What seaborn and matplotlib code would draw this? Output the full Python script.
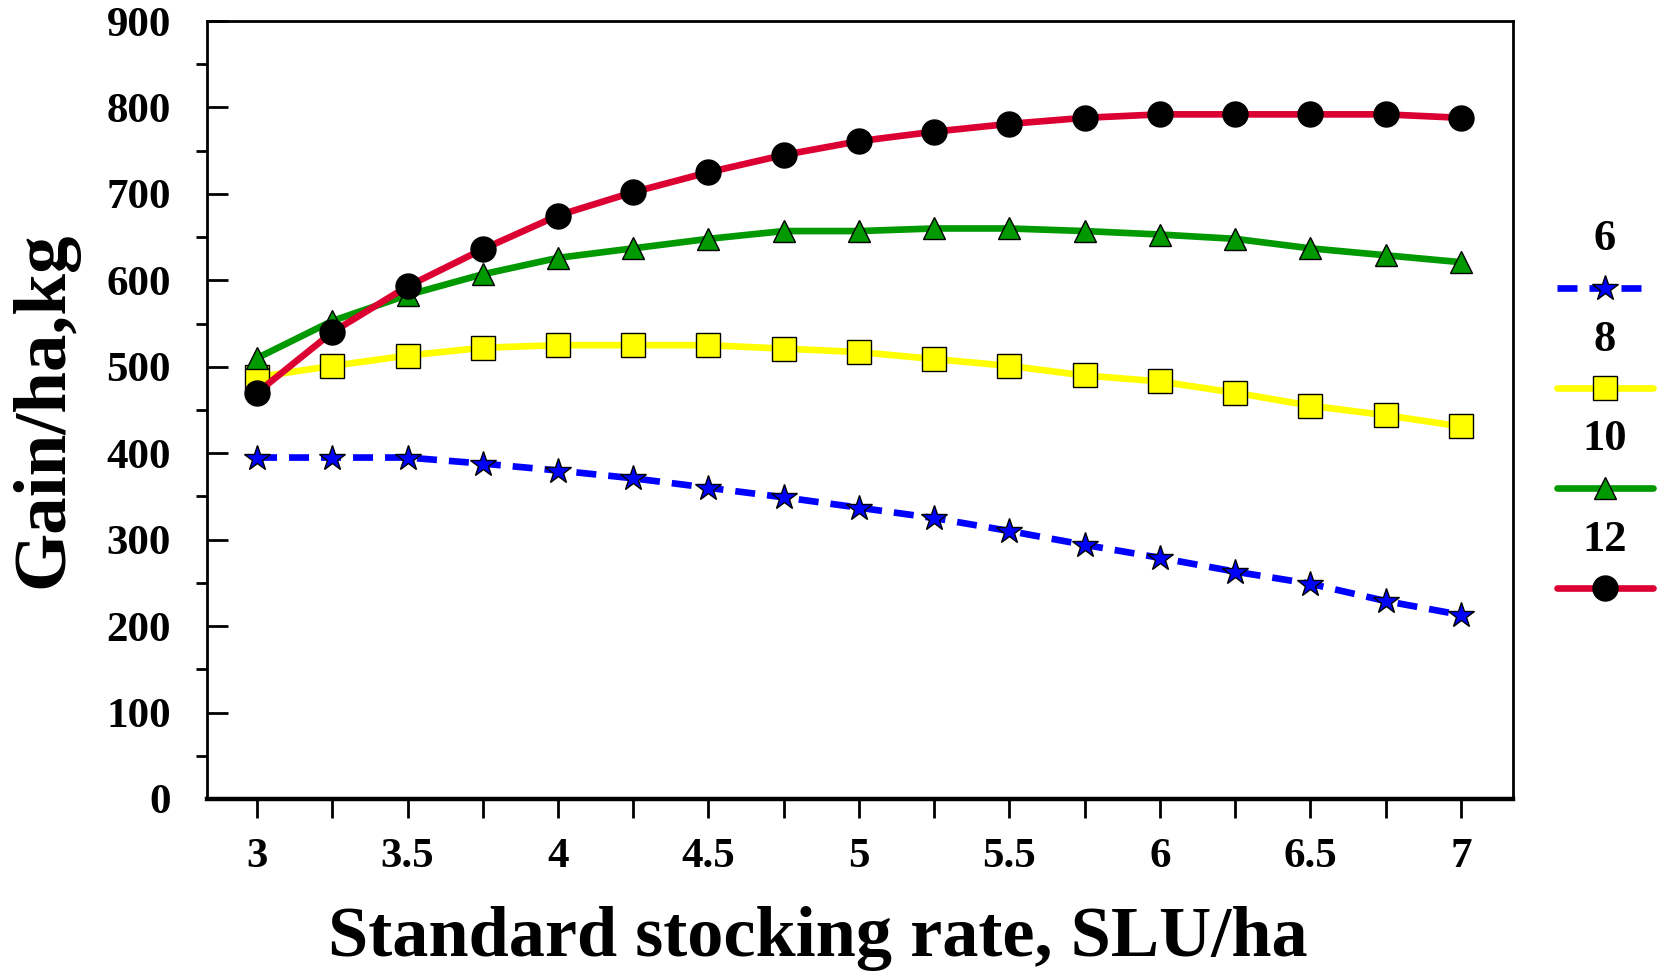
import matplotlib
matplotlib.use("Agg")
import matplotlib.pyplot as plt
from matplotlib.lines import Line2D
from matplotlib.ticker import MultipleLocator
import numpy as np
import pandas as pd
import seaborn as sns

# stocking rate (SLU/ha)
rate = [3, 3.25, 3.5, 3.75, 4, 4.25, 4.5, 4.75, 5, 5.25, 5.5, 5.75, 6, 6.25, 6.5, 6.75, 7]

# gain per ha (kg) for each series
gain_6 = [395, 395, 395, 388, 380, 371, 360, 349, 337, 325, 310, 294, 279, 263, 249, 229, 213]
gain_8 = [488, 501, 513, 522, 525, 525, 525, 521, 517, 509, 501, 490, 483, 470, 455, 444, 431]
gain_10 = [510, 553, 583, 607, 626, 637, 648, 657, 657, 660, 660, 657, 653, 648, 637, 629, 621]
gain_12 = [470, 540, 593, 636, 675, 702, 725, 745, 761, 772, 781, 788, 792, 792, 792, 792, 788]

series = ["6", "8", "10", "12"]
colors = {"6": "#0000ff", "8": "#ffff00", "10": "#009900", "12": "#dc0032"}
markers = {"6": "*", "8": "s", "10": "^", "12": "o"}
marker_fill = {"6": "#0000ff", "8": "#ffff00", "10": "#009900", "12": "black"}
marker_size = {"6": 19, "8": 17, "10": 16, "12": 18}
dashes = {"6": (3, 1.8), "8": "", "10": "", "12": ""}

df = pd.concat([
    pd.DataFrame({"rate": rate, "gain": g, "series": s})
    for s, g in zip(series, [gain_6, gain_8, gain_10, gain_12])
])

sns.set_theme(style="white")
plt.rcParams["font.family"] = ["Liberation Serif", "DejaVu Serif"]
plt.rcParams["font.weight"] = "bold"
plt.rcParams["text.color"] = "black"
plt.rcParams["axes.labelcolor"] = "black"
plt.rcParams["xtick.color"] = "black"
plt.rcParams["ytick.color"] = "black"

fig = plt.figure(figsize=(16.58, 9.77), dpi=100)
ax = fig.add_axes([0.1249, 0.1822, 0.9125 - 0.1249, 0.9785 - 0.1822])

lw = 4.8
for s in series:
    sub = df[df["series"] == s]
    sns.lineplot(data=sub, x="rate", y="gain", ax=ax, color=colors[s],
                 linewidth=lw, marker=markers[s], markersize=marker_size[s],
                 markerfacecolor=marker_fill[s], markeredgecolor="black",
                 markeredgewidth=1.0)
    if s == "6":
        ax.lines[-1].set_dashes(dashes[s])

ax.set_xlim(2.834, 7.173)
ax.set_ylim(0, 900)

ax.xaxis.set_major_locator(MultipleLocator(0.5))
ax.xaxis.set_minor_locator(MultipleLocator(0.25))
ax.yaxis.set_major_locator(MultipleLocator(100))
ax.yaxis.set_minor_locator(MultipleLocator(50))
ax.set_xticklabels([f"{v:g}" for v in ax.get_xticks()])

ax.tick_params(axis="x", which="both", direction="out", length=14, width=2,
               labelsize=31, pad=14, bottom=True)
ax.tick_params(axis="y", which="major", direction="in", length=15, width=2,
               labelsize=31, pad=26, left=True)
ax.tick_params(axis="y", which="minor", direction="out", length=8, width=2, left=True)

for side in ["top", "right", "left"]:
    ax.spines[side].set_linewidth(2)
    ax.spines[side].set_color("black")
ax.spines["bottom"].set_linewidth(3.2)
ax.spines["bottom"].set_color("black")

ax.set_xlabel("Standard stocking rate, SLU/ha", fontsize=52, fontweight="bold")
ax.xaxis.set_label_coords(0.468, -0.138)
ax.set_ylabel("Gain/ha,kg", fontsize=54, fontweight="bold", labelpad=20)
ax.grid(False)
if ax.get_legend():
    ax.get_legend().remove()

# legend outside right: label above each line sample
leg_x0, leg_x1 = 1557 / 1658, 1653 / 1658
leg_xc = 1605 / 1658
label_y = [239, 340, 439, 540]
line_y = [288, 388, 488, 588]
for s, ty, ly in zip(series, label_y, line_y):
    fig.text(leg_xc, 1 - ty / 977, s, ha="center", va="center", fontsize=32, fontweight="bold")
    ln = Line2D([leg_x0, leg_x1], [1 - ly / 977] * 2, transform=fig.transFigure,
                color=colors[s], linewidth=lw, solid_capstyle="round")
    if s == "6":
        ln.set_dashes(dashes[s])
    fig.add_artist(ln)
    fig.add_artist(Line2D([leg_xc], [1 - ly / 977], transform=fig.transFigure,
                          marker=markers[s], markersize=marker_size[s],
                          markerfacecolor=marker_fill[s], markeredgecolor="black",
                          markeredgewidth=1.0, linestyle="none"))

fig.savefig("out.png", dpi=100)
